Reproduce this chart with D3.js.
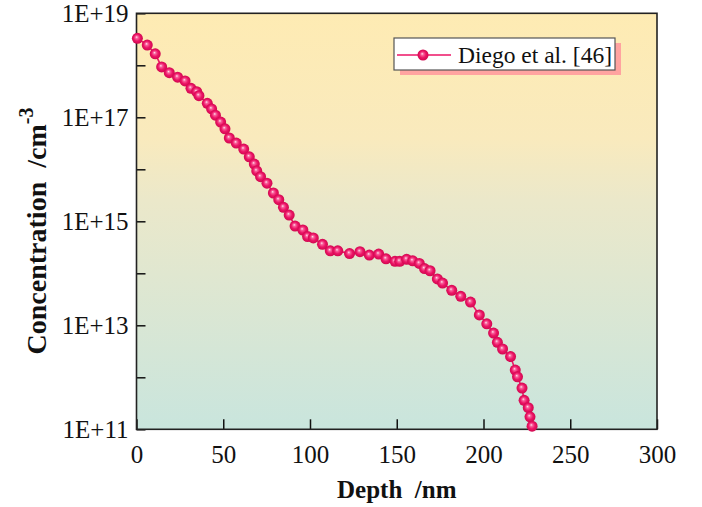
<!DOCTYPE html>
<html>
<head>
<meta charset="utf-8">
<script src="https://cdn.jsdelivr.net/npm/d3@7/dist/d3.min.js"></script>
<style>
  html, body { margin: 0; padding: 0; background: #fff; }
  svg { display: block; }
  svg text { font-family: "Liberation Serif", "Times New Roman", Times, serif; }
</style>
</head>
<body>
<div id="chart"></div>
<script>
// depth (nm)
const depth = [0.5, 6.2, 10.8, 14.5, 18.9, 23.7, 28.0, 31.4, 34.7, 36.0,
  40.8, 43.3, 45.5, 48.5, 51.0, 53.5, 57.5, 61.8, 65.0, 67.9,
  69.3, 71.5, 75.2, 78.9, 82.0, 84.7, 88.0, 91.4, 95.9, 98.6,
  101.9, 107.2, 111.7, 116.0, 122.8, 128.8, 134.2, 139.6, 143.8, 149.0,
  151.7, 155.7, 159.2, 163.0, 166.0, 169.2, 173.4, 176.4, 181.7, 186.9,
  192.5, 197.6, 201.9, 205.8, 208.0, 211.0, 215.6, 218.3, 219.6, 222.2,
  223.4, 225.8, 226.8, 228.0];

// concentration (cm^-3)
const conc = [3.3e18, 2.45e18, 1.66e18, 9.3e17, 7.2e17, 5.9e17, 5.0e17, 3.6e17, 3.1e17, 2.6e17,
  1.86e17, 1.45e17, 1.1e17, 8.1e16, 6.0e16, 4.0e16, 3.2e16, 2.45e16, 1.74e16, 1.26e16,
  9.3e15, 7.2e15, 5.4e15, 3.5e15, 2.6e15, 1.86e15, 1.32e15, 8.1e14, 6.8e14, 5.1e14,
  4.8e14, 3.6e14, 2.7e14, 2.7e14, 2.4e14, 2.6e14, 2.24e14, 2.34e14, 1.9e14, 1.7e14,
  1.7e14, 1.86e14, 1.74e14, 1.55e14, 1.23e14, 1.12e14, 7.8e13, 6.5e13, 4.7e13, 3.6e13,
  2.8e13, 1.58e13, 1.07e13, 7.1e12, 4.7e12, 3.5e12, 2.5e12, 1.38e12, 1.02e12, 6.2e11,
  3.6e11, 2.6e11, 1.74e11, 1.15e11];

const xTicks = [0, 50, 100, 150, 200, 250, 300];
const yTicks = [1e11, 1e12, 1e13, 1e14, 1e15, 1e16, 1e17, 1e18, 1e19];
const yLabelTicks = [1e11, 1e13, 1e15, 1e17, 1e19];
const seriesName = "Diego et al. [46]";

const W = 702, H = 507;
const margin = { top: 13.3, right: 45, bottom: 77.7, left: 136.5 };
const iw = W - margin.left - margin.right;
const ih = H - margin.top - margin.bottom;
const pink = "#ec1566";
const serif = "'Liberation Serif', 'Times New Roman', Times, serif";

const svg = d3.select("#chart").append("svg")
  .attr("width", W)
  .attr("height", H)
  .attr("font-family", serif);

const defs = svg.append("defs");

// background gradient, yellow at top to pale teal at bottom
const bg = defs.append("linearGradient")
  .attr("id", "bg-grad")
  .attr("x1", "0%").attr("x2", "0%")
  .attr("y1", "0%").attr("y2", "100%");
bg.append("stop").attr("offset", "0%").attr("stop-color", "#feebb3");
bg.append("stop").attr("offset", "30%").attr("stop-color", "#f9eabd");
bg.append("stop").attr("offset", "45%").attr("stop-color", "#ebe8ca");
bg.append("stop").attr("offset", "100%").attr("stop-color", "#c9e5dd");

// shiny ball marker
const ball = defs.append("radialGradient")
  .attr("id", "ball")
  .attr("cx", "50%").attr("cy", "50%").attr("r", "50%")
  .attr("fx", "42%").attr("fy", "38%");
ball.append("stop").attr("offset", "0%").attr("stop-color", "#ffe4ee");
ball.append("stop").attr("offset", "25%").attr("stop-color", "#f8609a");
ball.append("stop").attr("offset", "60%").attr("stop-color", pink);
ball.append("stop").attr("offset", "100%").attr("stop-color", "#d0084f");

const g = svg.append("g")
  .attr("transform", `translate(${margin.left},${margin.top})`);

const x = d3.scaleLinear().domain([0, 300]).range([0, iw]);
const y = d3.scaleLog().domain([1e11, 1e19]).range([ih, 0]);

g.append("rect")
  .attr("width", iw)
  .attr("height", ih)
  .attr("fill", "url(#bg-grad)");

// axes, ticks pointing inward
const xAxis = d3.axisBottom(x).tickValues(xTicks).tickSize(-10).tickPadding(16).tickFormat(d3.format("d"));
const yAxis = d3.axisLeft(y).tickValues(yTicks).tickSize(-9).tickPadding(8)
  .tickFormat(d => yLabelTicks.includes(d) ? "1E+" + Math.round(Math.log10(d)) : "");

const gx = g.append("g").attr("transform", `translate(0,${ih})`).call(xAxis);
const gy = g.append("g").call(yAxis);

[gx, gy].forEach(a => {
  a.attr("font-family", serif).attr("font-size", 25);
  a.select(".domain").remove();
  a.selectAll(".tick line").attr("stroke", "#111").attr("stroke-width", 1.5);
  a.selectAll(".tick text").attr("fill", "#111");
});

// frame
g.append("rect")
  .attr("width", iw)
  .attr("height", ih)
  .attr("fill", "none")
  .attr("stroke", "#222")
  .attr("stroke-width", 1.6);

// series
const pts = depth.map((d, i) => ({ d, c: conc[i] }));

g.append("path")
  .datum(pts)
  .attr("fill", "none")
  .attr("stroke", pink)
  .attr("stroke-width", 1.6)
  .attr("d", d3.line().x(p => x(p.d)).y(p => y(p.c)));

g.selectAll("circle.pt")
  .data(pts)
  .enter()
  .append("circle")
  .attr("class", "pt")
  .attr("cx", p => x(p.d))
  .attr("cy", p => y(p.c))
  .attr("r", 5.5)
  .attr("fill", "url(#ball)");

// legend
const lg = svg.append("g").attr("transform", "translate(394,38)");
lg.append("rect")
  .attr("x", 6).attr("y", 5)
  .attr("width", 221).attr("height", 32)
  .attr("fill", "#ffa3a0");
lg.append("rect")
  .attr("width", 221).attr("height", 32)
  .attr("fill", "#fff")
  .attr("stroke", "#555")
  .attr("stroke-width", 1.2);
lg.append("line")
  .attr("x1", 3).attr("x2", 57)
  .attr("y1", 17).attr("y2", 17)
  .attr("stroke", pink).attr("stroke-width", 1.6);
lg.append("circle")
  .attr("cx", 29).attr("cy", 17).attr("r", 5.5)
  .attr("fill", "url(#ball)");
lg.append("text")
  .attr("x", 64).attr("y", 25)
  .attr("font-size", "23.5px")
  .attr("fill", "#111")
  .text(seriesName);

// axis titles
svg.append("text")
  .attr("x", margin.left + iw / 2)
  .attr("y", 498)
  .attr("text-anchor", "middle")
  .attr("font-size", "25px")
  .attr("font-weight", "bold")
  .attr("fill", "#111")
  .attr("xml:space", "preserve")
  .text("Depth  /nm");

const yt = svg.append("text")
  .attr("transform", "translate(46,231) rotate(-90)")
  .attr("text-anchor", "middle")
  .attr("font-size", "28px")
  .attr("font-weight", "bold")
  .attr("fill", "#111")
  .attr("xml:space", "preserve");
yt.append("tspan").text("Concentration  /cm");
yt.append("tspan").attr("dy", -13).attr("font-size", "20px").text("-3");
</script>
</body>
</html>
